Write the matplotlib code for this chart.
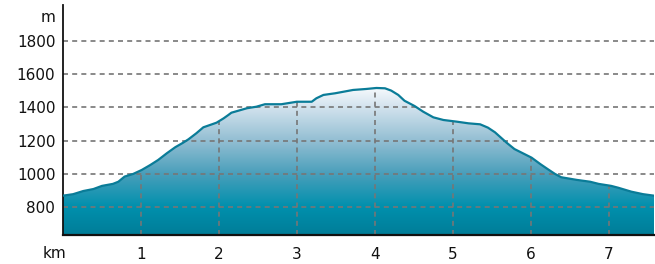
import numpy as np
import matplotlib
matplotlib.use('Agg')
import matplotlib.pyplot as plt
from matplotlib.colors import LinearSegmentedColormap

# profile: distance (km) and altitude (m)
dist_km = [0.00, 0.13, 0.26, 0.39, 0.50, 0.64, 0.71, 0.79, 0.90, 1.01,
           1.12, 1.22, 1.33, 1.44, 1.54, 1.61, 1.71, 1.80, 1.91, 1.97,
           2.06, 2.12, 2.16, 2.36, 2.48, 2.59, 2.80, 3.00, 3.19, 3.25,
           3.34, 3.49, 3.72, 3.89, 4.02, 4.13, 4.21, 4.30, 4.38, 4.51,
           4.62, 4.75, 4.88, 5.05, 5.20, 5.35, 5.45, 5.54, 5.64, 5.69,
           5.79, 5.90, 6.01, 6.12, 6.22, 6.31, 6.39, 6.59, 6.76, 6.87,
           7.03, 7.12, 7.29, 7.44, 7.58]
alt_m = [868, 877, 896, 908, 927, 939, 952, 983, 999, 1023,
         1053, 1083, 1123, 1160, 1187, 1208, 1244, 1280, 1298, 1308,
         1334, 1354, 1368, 1395, 1404, 1419, 1419, 1434, 1434, 1455,
         1475, 1485, 1505, 1511, 1517, 1515, 1501, 1475, 1440, 1408,
         1374, 1340, 1324, 1314, 1304, 1298, 1278, 1250, 1208, 1187,
         1149, 1123, 1097, 1059, 1027, 999, 979, 963, 952, 939,
         927, 916, 892, 877, 868]

x_ticks = [1, 2, 3, 4, 5, 6, 7]
y_ticks = [800, 1000, 1200, 1400, 1600, 1800]

plt.rcParams['font.family'] = 'DejaVu Sans'

fig = plt.figure(figsize=(6.55, 2.64), dpi=100)
ax = fig.add_axes([63 / 655, 29 / 264, 591 / 655, 230 / 264])

ymin, ymax = 631, 2017
xmax = 7.58
ax.set_xlim(0, xmax)
ax.set_ylim(ymin, ymax)

# gradient fill clipped to the profile
top = max(alt_m)
cmap = LinearSegmentedColormap.from_list('prof', [
    (0.0, '#007d98'),
    ((800 - ymin) / (top - ymin), '#0090ad'),
    ((1000 - ymin) / (top - ymin), '#4a9fbb'),
    ((1200 - ymin) / (top - ymin), '#94bfd3'),
    ((1400 - ymin) / (top - ymin), '#d3e3ee'),
    (1.0, '#f7fafd')])
grad = np.linspace(0, 1, 256).reshape(-1, 1)
img = ax.imshow(grad, cmap=cmap, origin='lower', aspect='auto',
                extent=[0, xmax, ymin, top], zorder=1)
poly = ax.fill_between(dist_km, alt_m, ymin, color='none', lw=0)
img.set_clip_path(poly.get_paths()[0], transform=ax.transData)

grid_kw = dict(color='#767676', lw=1.2, linestyle=(0, (3, 2.5)))
for y in y_ticks:
    ax.axhline(y, zorder=2, **grid_kw)
for k in x_ticks:
    ax.vlines(k, ymin, np.interp(k, dist_km, alt_m), zorder=2, **grid_kw)

ax.plot(dist_km, alt_m, color='#0a7c98', lw=1.6, zorder=3,
        solid_capstyle='round', solid_joinstyle='round')

ax.set_xticks(x_ticks)
ax.set_yticks(y_ticks)
ax.tick_params(length=0, labelsize=11, colors='#111111')
ax.tick_params(axis='y', pad=5.5)
ax.tick_params(axis='x', pad=8.5)

for side in ['top', 'right']:
    ax.spines[side].set_visible(False)
ax.spines['left'].set_linewidth(1.3)
ax.spines['bottom'].set_linewidth(1.6)
ax.spines['left'].set_color('#111111')
ax.spines['bottom'].set_color('#111111')

ax.text(-8 / 591, (235 - 18) / 230, 'm', ha='right', va='center',
        fontsize=11, color='#111111', transform=ax.transAxes)
ax.text(-8 / 591, (235 - 254) / 230, 'km', ha='center', va='center',
        fontsize=11, color='#111111', transform=ax.transAxes)

fig.savefig('out.png', dpi=100)
plt.close(fig)
